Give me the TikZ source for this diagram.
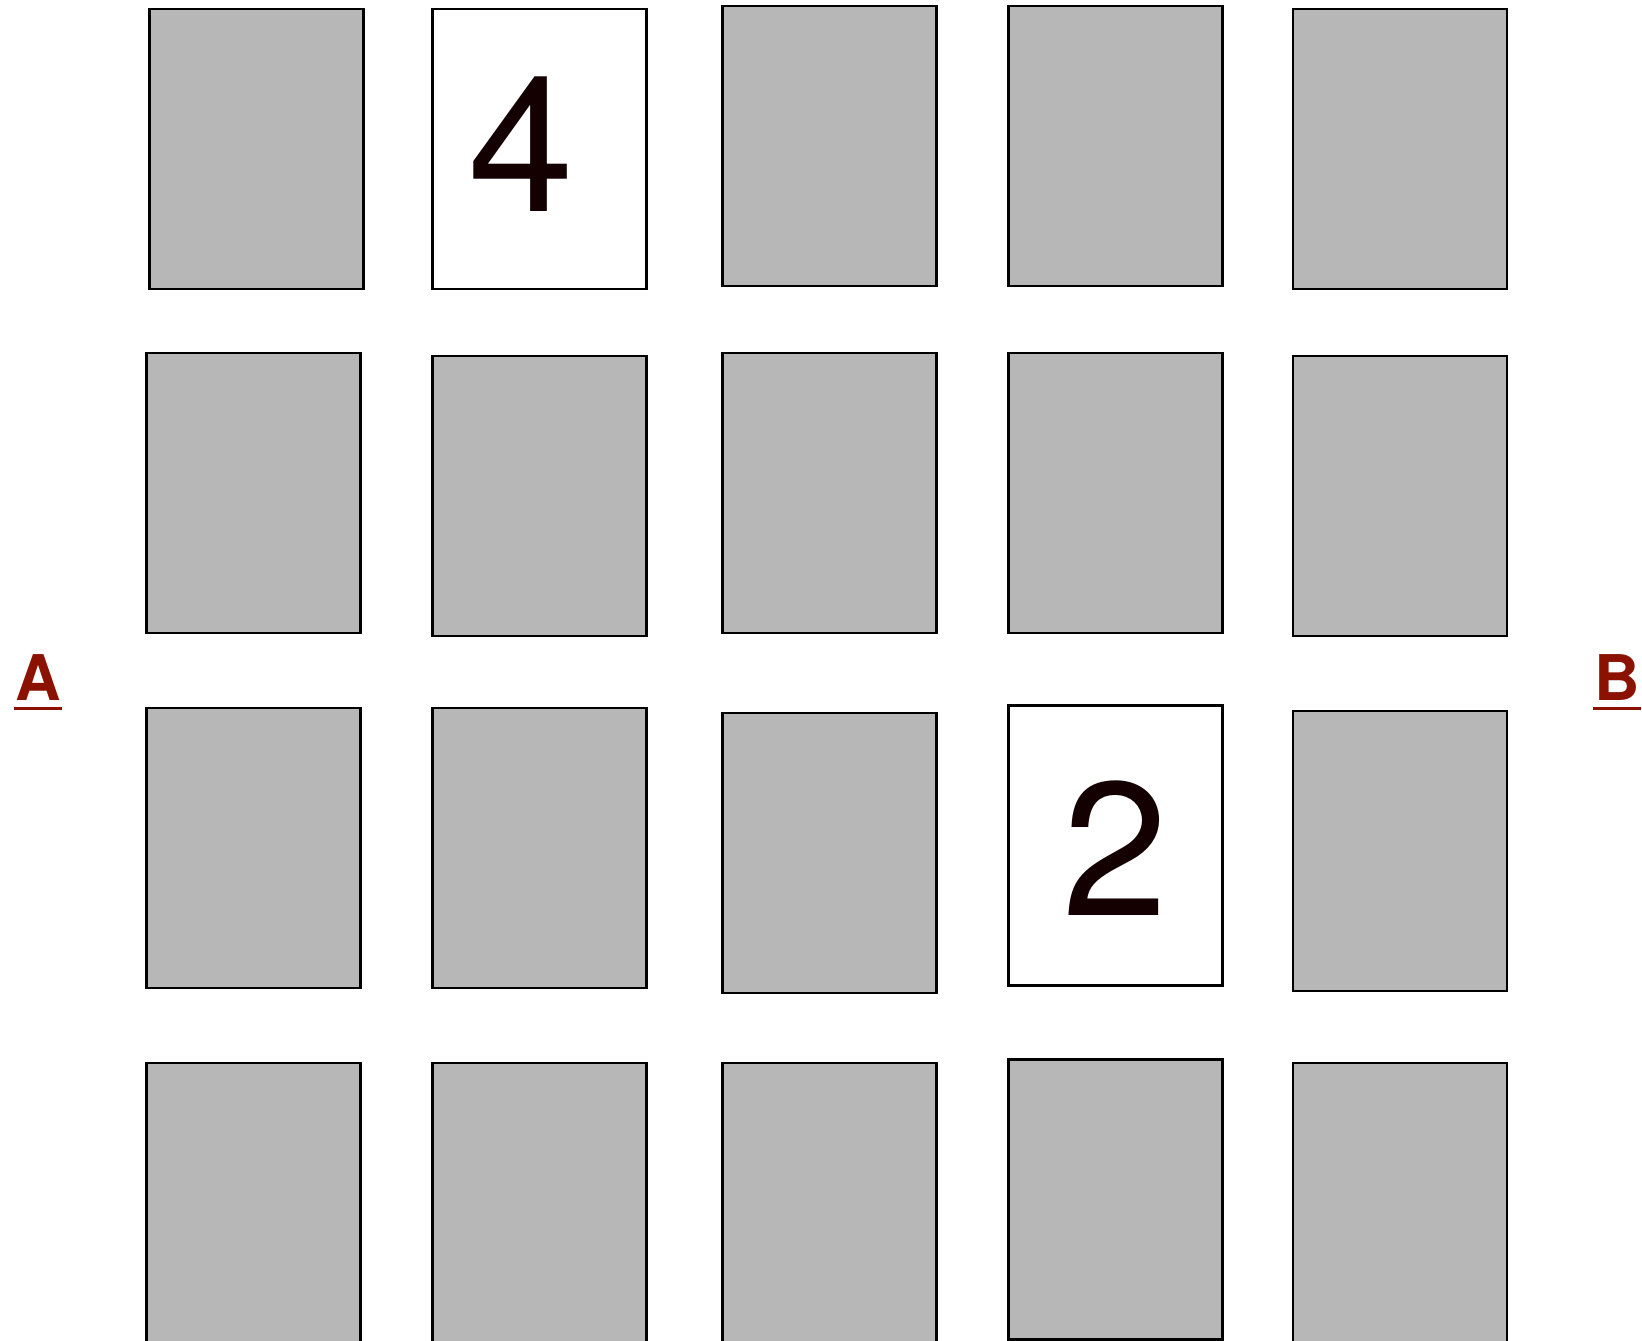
\documentclass[tikz,border=0pt]{standalone}
\usepackage{fontspec}
\setmainfont{TeX Gyre Heros}
\definecolor{cardgray}{HTML}{B7B7B7}
\definecolor{labred}{HTML}{8B1100}
\definecolor{digit}{HTML}{140000}
\begin{document}
\begin{tikzpicture}[x=1pt,y=-1pt,
  card/.style={draw=black,line width=2.4pt,fill=cardgray,minimum width=214pt,minimum height=280pt,inner sep=0pt,outer sep=0pt},
  opencard/.style={card,fill=white},
  bignum/.style={font=\fontsize{190}{200}\selectfont,text=digit,inner sep=0pt},
  sidelabel/.style={font=\fontsize{63}{70}\selectfont\bfseries,text=labred,inner xsep=1pt,inner ysep=0pt},
  underl/.style={draw=labred,line width=3pt}]
\useasboundingbox[fill=white] (0,0) rectangle (1642,1341);
% row 1
\node[card]     (c00) at (256.5,148.7) {};
\node[opencard] (c01) at (539.3,148.7) {};
\node[card]     (c02) at (829.4,146.1) {};
\node[card]     (c03) at (1115.3,146.1) {};
\node[card]     (c04) at (1400.1,148.7) {};
% row 2
\node[card] (c10) at (253.4,493.2) {};
\node[card] (c11) at (539.3,495.8) {};
\node[card] (c12) at (829.4,493.2) {};
\node[card] (c13) at (1115.3,493.2) {};
\node[card] (c14) at (1400.1,495.8) {};
% row 3
\node[card]     (c20) at (253.4,847.7) {};
\node[card]     (c21) at (539.3,847.7) {};
\node[card]     (c22) at (829.4,852.9) {};
\node[opencard] (c23) at (1115.3,845.6) {};
\node[card]     (c24) at (1400.1,850.8) {};
% row 4
\node[card] (c30) at (253.4,1202.9) {};
\node[card] (c31) at (539.3,1202.9) {};
\node[card] (c32) at (829.4,1202.9) {};
\node[card] (c33) at (1115.3,1199.6) {};
\node[card] (c34) at (1400.1,1202.9) {};
% numbers
\node[bignum] (n4) at (521,144) {4};
\node[bignum] (n2) at (1115.5,848) {2};
% side labels
\node[sidelabel] (la) at (38,678) {A};
\node[sidelabel] (lb) at (1617,678) {B};
\draw[underl] ([yshift=-7pt]la.south west) -- ([yshift=-7pt]la.south east);
\draw[underl] ([yshift=-7pt]lb.south west) -- ([yshift=-7pt]lb.south east);
\end{tikzpicture}
\end{document}
